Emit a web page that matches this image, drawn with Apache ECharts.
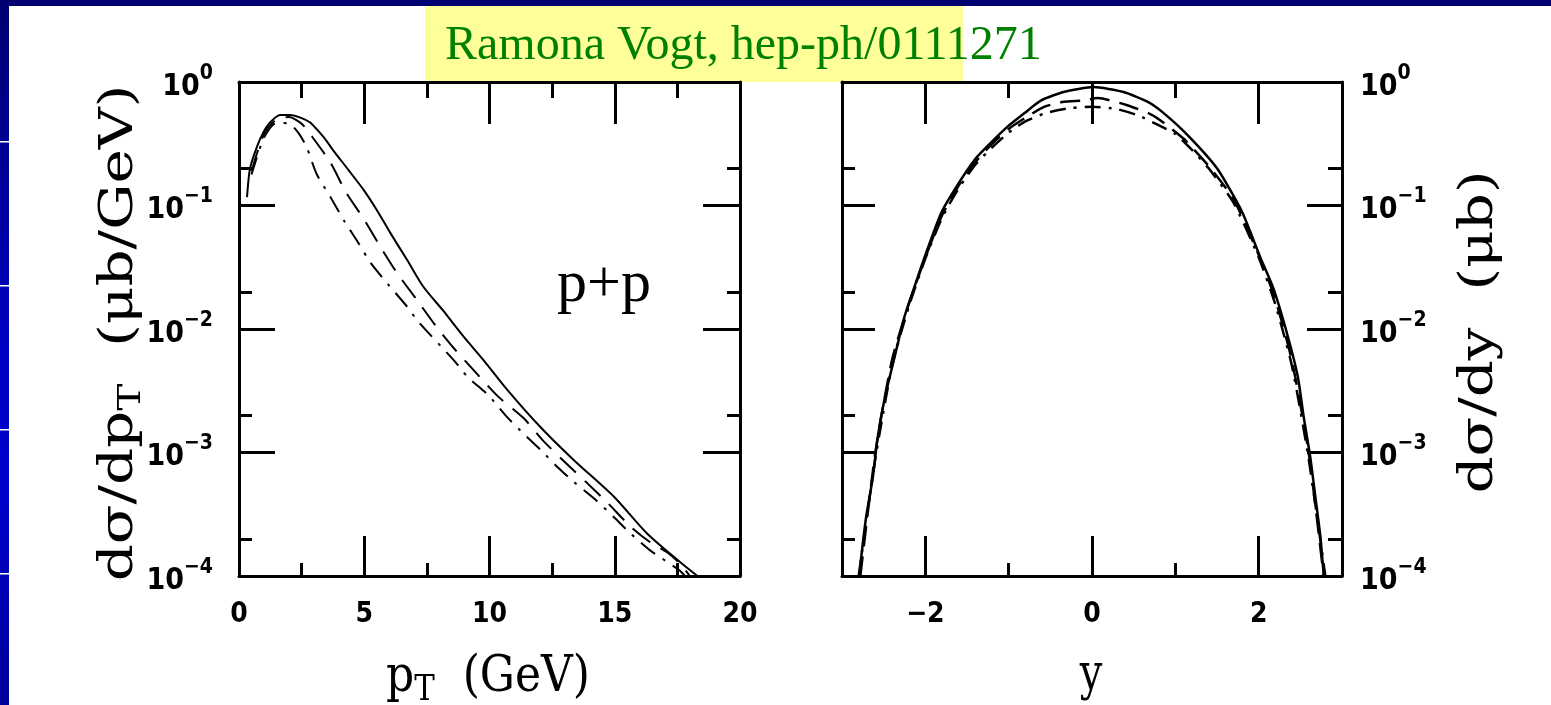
<!DOCTYPE html>
<html><head><meta charset="utf-8">
<script src="https://cdn.jsdelivr.net/npm/echarts@6/dist/echarts.min.js"></script>
<style>html,body{margin:0;padding:0;background:#fff;overflow:hidden}#c{width:1551px;height:705px}</style>
</head><body><div id="c"></div>
<script>
// ---------- data: left panel, d sigma / d pT (ub/GeV) vs pT (GeV) ----------
const ptSolid = [0.32, 0.44, 0.72, 0.97, 1.24, 1.64, 2.04, 2.5, 2.84, 3.1, 3.44, 3.76, 4.36, 4.96, 5.5, 6.04, 6.72, 7.36, 8.16, 8.96, 9.76, 10.72, 12.04, 13.36, 14.96, 16.3, 17.64, 18.3];
const dsSolid = [0.117, 0.20, 0.30, 0.39, 0.47, 0.54, 0.54, 0.51, 0.47, 0.415, 0.345, 0.28, 0.195, 0.135, 0.092, 0.060, 0.036, 0.022, 0.014, 0.0087, 0.0056, 0.0032, 0.0016, 0.00087, 0.00044, 0.00022, 0.000128, 0.0001];

const ptDashed = [0.5, 1.0, 1.5, 2.0, 2.5, 2.9, 3.64, 4.3, 4.96, 5.72, 6.32, 7.12, 7.84, 8.64, 9.44, 10.36, 11.36, 12.12, 12.92, 13.92, 14.72, 15.64, 16.44, 17.1, 17.6, 18.0];
const dsDashed = [0.19, 0.38, 0.50, 0.52, 0.46, 0.365, 0.224, 0.125, 0.079, 0.0437, 0.0282, 0.017, 0.0107, 0.00676, 0.00447, 0.00282, 0.0019, 0.00126, 0.00087, 0.00056, 0.00039, 0.00025, 0.000186, 0.000155, 0.000126, 0.0001];

const ptDashDot = [0.5, 1.0, 1.5, 2.0, 2.4, 2.72, 3.1, 3.64, 4.2, 4.76, 5.24, 5.96, 6.72, 7.12, 8.64, 9.12, 9.96, 10.64, 11.24, 12.04, 12.72, 13.36, 14.2, 14.96, 15.64, 16.4, 17.56, 17.8];
const dsDashDot = [0.178, 0.355, 0.468, 0.46, 0.38, 0.29, 0.18, 0.118, 0.075, 0.050, 0.0347, 0.0229, 0.0151, 0.0117, 0.0054, 0.0041, 0.0029, 0.002, 0.0015, 0.00105, 0.00076, 0.00058, 0.00042, 0.0003, 0.00022, 0.000162, 0.000112, 0.0001];

// ---------- data: right panel, d sigma / dy (ub) vs y ----------
const ySolid = [-2.79, -2.77, -2.71, -2.63, -2.57, -2.49, -2.37, -2.25, -2.13, -2.01, -1.81, -1.63, -1.41, -1.21, -1.01, -0.81, -0.61, -0.34, 0.02, 0.38, 0.67, 0.86, 1.15, 1.5, 1.8, 2.02, 2.18, 2.35, 2.47, 2.54, 2.62, 2.68, 2.74, 2.78];
const dyS = [0.000102, 0.000141, 0.000302, 0.00063, 0.00135, 0.0027, 0.0059, 0.0126, 0.022, 0.038, 0.087, 0.141, 0.234, 0.324, 0.437, 0.56, 0.71, 0.83, 0.91, 0.83, 0.69, 0.56, 0.37, 0.20, 0.089, 0.038, 0.021, 0.0087, 0.0041, 0.00195, 0.00091, 0.00044, 0.00021, 0.000102];

const yDashed = [-2.78, -2.6, -2.4, -2.2, -2.0, -1.8, -1.6, -1.4, -1.2, -1.0, -0.8, -0.57, -0.34, -0.1, 0.07, 0.43, 0.7, 0.86, 1.1, 1.4, 1.7, 2.0, 2.2, 2.4, 2.6, 2.78];
const dyD = [0.0001, 0.001, 0.0056, 0.0158, 0.038, 0.083, 0.145, 0.224, 0.316, 0.417, 0.513, 0.631, 0.692, 0.708, 0.741, 0.646, 0.550, 0.468, 0.347, 0.209, 0.112, 0.0398, 0.0174, 0.0055, 0.001, 0.0001];

const yDashDot = [-2.8, -2.6, -2.4, -2.2, -2.0, -1.8, -1.6, -1.4, -1.2, -1.0, -0.8, -0.55, -0.25, 0.0, 0.3, 0.55, 0.8, 1.0, 1.2, 1.4, 1.7, 2.0, 2.2, 2.4, 2.6, 2.8];
const dyDD = [0.0001, 0.00089, 0.005, 0.0151, 0.0372, 0.0794, 0.138, 0.214, 0.295, 0.389, 0.479, 0.562, 0.617, 0.631, 0.603, 0.537, 0.447, 0.380, 0.282, 0.200, 0.105, 0.038, 0.0158, 0.005, 0.00089, 0.0001];

// ---------- tick labels ----------
const ptTicks = [0, 5, 10, 15, 20];
const rapMajorTicks = [-2, 0, 2];
const rapMinorTicks = [-1, 1];
const decadeSup = {'0': '0', '-1': '−1', '-2': '−2', '-3': '−3', '-4': '−4'};
const logMinorTicks = [-3.699, -2.699, -1.699, -0.699]; // positions of 2x10^n in log10 units

const TICKFONT = "'DejaVu Sans Condensed','Liberation Sans Narrow','DejaVu Sans',sans-serif";
const TITLEFONT = "'DejaVu Serif','Liberation Serif',serif";

const pairs = (xs, ys) => xs.map((x, i) => [x, ys[i]]);
const line3 = {show: true, onZero: false, lineStyle: {color: '#000', width: 3}};
const noLine = {show: false, onZero: false};
const noLabel = {show: false};
const majTick = (len, extra) => Object.assign({show: true, inside: true, length: len, lineStyle: {color: '#000', width: 3}}, extra || {});

const supRich = {
  b: {fontFamily: TICKFONT, fontWeight: 'bold', fontSize: 30, lineHeight: 48, color: '#000'},
  s: {fontFamily: TICKFONT, fontWeight: 'bold', fontSize: 21, verticalAlign: 'top', color: '#000'}
};
const logFormatter = v => '{b|10}{s|' + decadeSup[String(Math.round(Math.log10(v)))] + '}';

const chart = echarts.init(document.getElementById('c'), null, {renderer: 'canvas'});
const option = {
  animation: false,
  backgroundColor: '#ffffff',
  grid: [
    {left: 239, top: 82, width: 501, height: 494, show: false},
    {left: 842, top: 82, width: 500, height: 494, show: false}
  ],
  xAxis: [
    {gridIndex: 0, type: 'value', position: 'bottom', min: 0, max: 20, interval: 5,
      axisLine: line3, axisTick: majTick(40),
      minorTick: {show: true, splitNumber: 2, length: 13, lineStyle: {color: '#000', width: 3}},
      splitLine: {show: false}, minorSplitLine: {show: false},
      axisLabel: {show: true, margin: 25, color: '#000', fontFamily: TICKFONT, fontWeight: 'bold', fontSize: 28,
        customValues: ptTicks}},
    {gridIndex: 0, type: 'value', position: 'top', min: 0, max: 20, interval: 5,
      axisLine: line3, axisTick: majTick(42),
      minorTick: {show: true, splitNumber: 2, length: 16, lineStyle: {color: '#000', width: 3}},
      splitLine: {show: false}, axisLabel: noLabel},
    {gridIndex: 1, type: 'value', position: 'bottom', min: -3, max: 3,
      axisLine: line3, axisTick: majTick(40, {customValues: rapMajorTicks}),
      splitLine: {show: false},
      axisLabel: {show: true, margin: 25, color: '#000', fontFamily: TICKFONT, fontWeight: 'bold', fontSize: 28,
        customValues: rapMajorTicks, formatter: v => String(v).replace('-', '−')}},
    {gridIndex: 1, type: 'value', position: 'bottom', min: -3, max: 3,
      axisLine: noLine, axisTick: majTick(13, {customValues: rapMinorTicks}),
      splitLine: {show: false}, axisLabel: noLabel},
    {gridIndex: 1, type: 'value', position: 'top', min: -3, max: 3,
      axisLine: line3, axisTick: majTick(42, {customValues: rapMajorTicks}),
      splitLine: {show: false}, axisLabel: noLabel},
    {gridIndex: 1, type: 'value', position: 'top', min: -3, max: 3,
      axisLine: noLine, axisTick: majTick(16, {customValues: rapMinorTicks}),
      splitLine: {show: false}, axisLabel: noLabel}
  ],
  yAxis: [
    {gridIndex: 0, type: 'log', logBase: 10, position: 'left', min: 0.0001, max: 1,
      axisLine: line3, axisTick: majTick(36), splitLine: {show: false},
      axisLabel: {show: true, margin: 26, align: 'right', padding: [10, 0, 0, 0], formatter: logFormatter, rich: supRich}},
    {gridIndex: 0, type: 'log', logBase: 10, position: 'right', min: 0.0001, max: 1,
      axisLine: line3, axisTick: majTick(37), splitLine: {show: false}, axisLabel: noLabel},
    {gridIndex: 0, type: 'value', position: 'left', min: -4, max: 0,
      axisLine: noLine, axisTick: majTick(13, {customValues: logMinorTicks}), splitLine: {show: false}, axisLabel: noLabel},
    {gridIndex: 0, type: 'value', position: 'right', min: -4, max: 0,
      axisLine: noLine, axisTick: majTick(13, {customValues: logMinorTicks}), splitLine: {show: false}, axisLabel: noLabel},
    {gridIndex: 1, type: 'log', logBase: 10, position: 'left', min: 0.0001, max: 1,
      axisLine: line3, axisTick: majTick(33), splitLine: {show: false}, axisLabel: noLabel},
    {gridIndex: 1, type: 'log', logBase: 10, position: 'right', min: 0.0001, max: 1,
      axisLine: line3, axisTick: majTick(35), splitLine: {show: false},
      axisLabel: {show: true, margin: 18, align: 'left', padding: [10, 0, 0, 0], formatter: logFormatter, rich: supRich}},
    {gridIndex: 1, type: 'value', position: 'left', min: -4, max: 0,
      axisLine: noLine, axisTick: majTick(13, {customValues: logMinorTicks}), splitLine: {show: false}, axisLabel: noLabel},
    {gridIndex: 1, type: 'value', position: 'right', min: -4, max: 0,
      axisLine: noLine, axisTick: majTick(14, {customValues: logMinorTicks}), splitLine: {show: false}, axisLabel: noLabel}
  ],
  series: [
    {name: 'pT solid', type: 'line', xAxisIndex: 0, yAxisIndex: 0, data: pairs(ptSolid, dsSolid),
      symbol: 'none', smooth: 0.25, lineStyle: {color: '#000', width: 2, type: 'solid'}, z: 5},
    {name: 'pT dashed', type: 'line', xAxisIndex: 0, yAxisIndex: 0, data: pairs(ptDashed, dsDashed),
      symbol: 'none', smooth: 0.25, lineStyle: {color: '#000', width: 2, type: [22, 12]}, z: 4},
    {name: 'pT dash-dot', type: 'line', xAxisIndex: 0, yAxisIndex: 0, data: pairs(ptDashDot, dsDashDot),
      symbol: 'none', smooth: 0.25, lineStyle: {color: '#000', width: 2, type: [18, 9, 3, 9]}, z: 4},
    {name: 'y solid', type: 'line', xAxisIndex: 2, yAxisIndex: 4, data: pairs(ySolid, dyS),
      symbol: 'none', smooth: 0.2, lineStyle: {color: '#000', width: 2.5, type: 'solid'}, z: 5},
    {name: 'y dashed', type: 'line', xAxisIndex: 2, yAxisIndex: 4, data: pairs(yDashed, dyD),
      symbol: 'none', smooth: 0.2, lineStyle: {color: '#000', width: 2.5, type: [20, 10]}, z: 4},
    {name: 'y dash-dot', type: 'line', xAxisIndex: 2, yAxisIndex: 4, data: pairs(yDashDot, dyDD),
      symbol: 'none', smooth: 0.2, lineStyle: {color: '#000', width: 2.5, type: [16, 8, 3, 8]}, z: 4}
  ],
  graphic: {elements: [
    {type: 'rect', silent: true, z: -5, shape: {x: 425, y: 6, width: 538, height: 76}, style: {fill: '#FFFF99'}},
    {type: 'rect', silent: true, z: 10, shape: {x: 0, y: 0, width: 1551, height: 6}, style: {fill: '#000070'}},
    {type: 'rect', silent: true, z: 10, shape: {x: 0, y: 0, width: 9, height: 705},
      style: {fill: {type: 'linear', x: 0, y: 0, x2: 0, y2: 1, colorStops: [
        {offset: 0, color: '#000070'}, {offset: 0.5, color: '#0000C4'}, {offset: 0.7, color: '#0000CC'}, {offset: 1, color: '#00009A'}]}}},
    {type: 'rect', silent: true, z: 11, shape: {x: 0, y: 141, width: 9, height: 1.5}, style: {fill: '#ffffff'}},
    {type: 'rect', silent: true, z: 11, shape: {x: 0, y: 285, width: 9, height: 1.5}, style: {fill: '#ffffff'}},
    {type: 'rect', silent: true, z: 11, shape: {x: 0, y: 429, width: 9, height: 1.5}, style: {fill: '#ffffff'}},
    {type: 'rect', silent: true, z: 11, shape: {x: 0, y: 573, width: 9, height: 1.5}, style: {fill: '#ffffff'}},
    {type: 'text', silent: true, z: 10, x: 445, y: 46,
      style: {text: 'Ramona Vogt, hep-ph/0111271', font: "48px 'Liberation Serif','Times New Roman',serif", fill: '#008000', align: 'left', verticalAlign: 'middle'}},
    {type: 'text', silent: true, z: 10, x: 604, y: 285,
      style: {text: 'p+p', font: "60px 'Liberation Serif','Times New Roman',serif", fill: '#000', align: 'center', verticalAlign: 'middle'}},
    {type: 'text', silent: true, z: 10, x: 120, y: 333, rotation: Math.PI / 2, scaleX: 1.45, scaleY: 1.15,
      style: {text: '{a|dσ/dp}{s|T}{a|  (μb/GeV)}', fill: '#000', align: 'center', verticalAlign: 'middle',
        rich: {a: {fontFamily: TITLEFONT, fontSize: 40, lineHeight: 48}, s: {fontFamily: TITLEFONT, fontSize: 28, verticalAlign: 'bottom'}}}},
    {type: 'text', silent: true, z: 10, x: 1480, y: 332, rotation: Math.PI / 2, scaleX: 1.45, scaleY: 1.15,
      style: {text: 'dσ/dy  (μb)', font: "40px " + TITLEFONT, fill: '#000', align: 'center', verticalAlign: 'middle'}},
    {type: 'text', silent: true, z: 10, x: 488, y: 678, scaleX: 1.1, scaleY: 1.25,
      style: {text: '{a|p}{s|T}{a|  (GeV)}', fill: '#000', align: 'center', verticalAlign: 'middle',
        rich: {a: {fontFamily: TITLEFONT, fontSize: 40, lineHeight: 48}, s: {fontFamily: TITLEFONT, fontSize: 28, verticalAlign: 'bottom'}}}},
    {type: 'text', silent: true, z: 10, x: 1091, y: 676, scaleX: 1.0, scaleY: 1.25,
      style: {text: 'y', font: "40px " + TITLEFONT, fill: '#000', align: 'center', verticalAlign: 'middle'}}
  ]}
};
chart.setOption(option);
</script>
</body></html>
